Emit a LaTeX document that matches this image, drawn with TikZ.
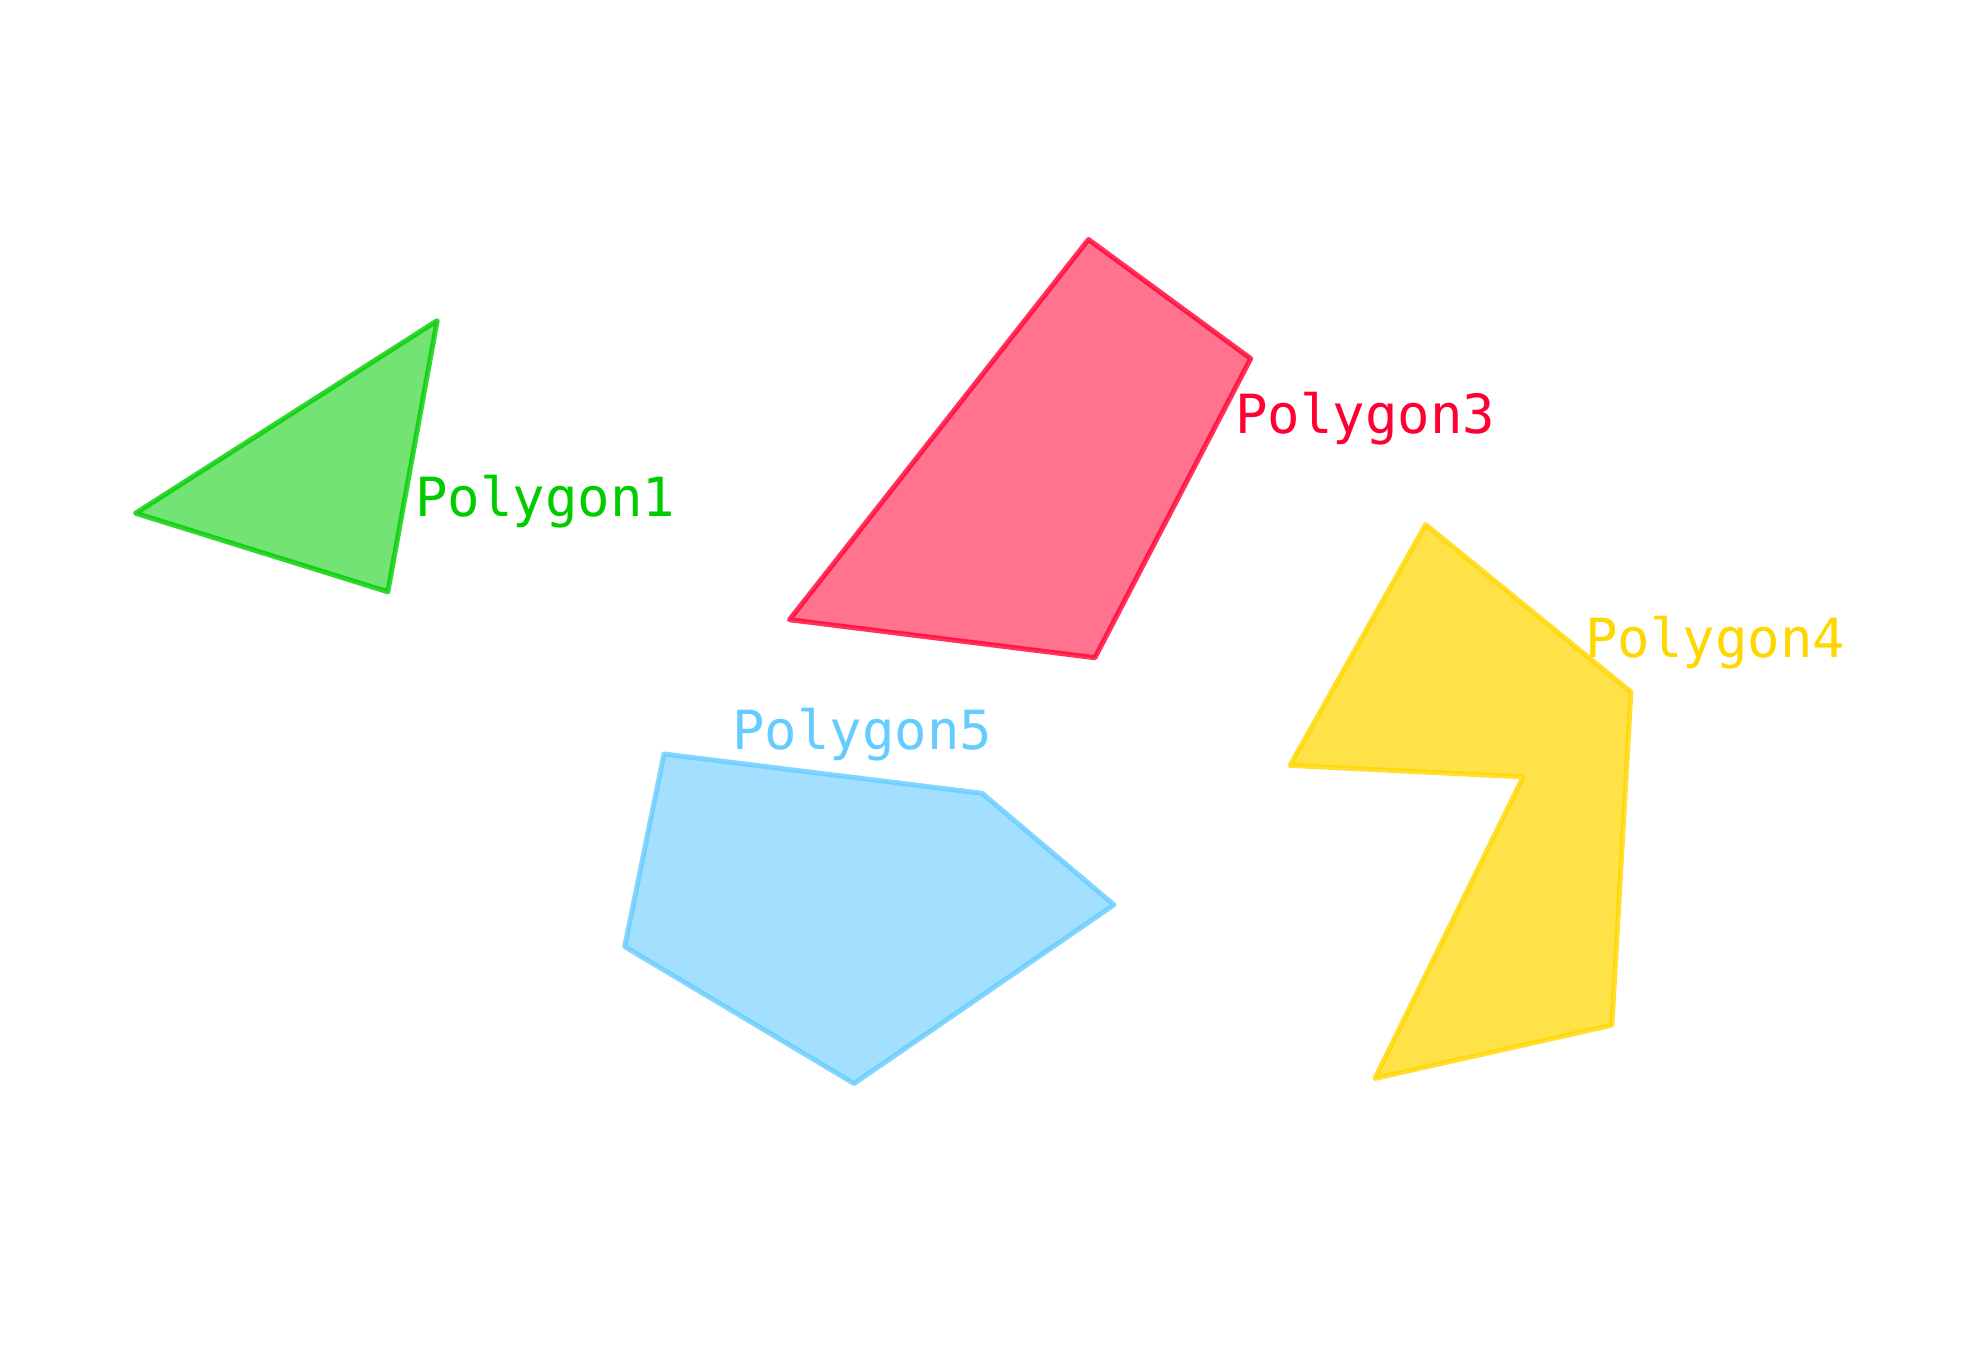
\documentclass[tikz,border=0pt]{standalone}
\usepackage{fontspec}
\newfontfamily\monofont{DejaVu Sans Mono}
\definecolor{cgreen}{HTML}{00CC00}
\definecolor{cred}{HTML}{FF0033}
\definecolor{cyellow}{HTML}{FFD700}
\definecolor{cblue}{HTML}{66CCFF}
\tikzset{
  poly/.style={line width=5pt, line join=round, draw=#1, draw opacity=0.8, fill=#1, fill opacity=0.55},
  lbl/.style={anchor=base west, inner sep=0pt, text=#1, font=\monofont\fontsize{54}{60}\selectfont}
}
\begin{document}
\begin{tikzpicture}[x=1pt,y=-1pt]
\useasboundingbox (0,0) rectangle (1987,1350);
% Polygon1
\coordinate (g1) at (135.6,513.2);
\coordinate (g2) at (437.2,320.6);
\coordinate (g3) at (387.8,591.8);
\draw[poly=cgreen] (g1) -- (g2) -- (g3) -- cycle;
\node[lbl=cgreen] (l1) at (415,516) {Polygon1};
% Polygon3
\coordinate (r1) at (1088.5,239.5);
\coordinate (r2) at (1250.7,358.6);
\coordinate (r3) at (1094.9,657.7);
\coordinate (r4) at (789.5,619.7);
\draw[poly=cred] (r1) -- (r2) -- (r3) -- (r4) -- cycle;
\node[lbl=cred] (l3) at (1235,433) {Polygon3};
% Polygon4
\coordinate (y1) at (1425.6,524.6);
\coordinate (y2) at (1630.9,691.9);
\coordinate (y3) at (1611.9,1025.2);
\coordinate (y4) at (1374.9,1078.4);
\coordinate (y5) at (1523.2,776.8);
\coordinate (y6) at (1290.0,765.4);
\draw[poly=cyellow, fill opacity=0.72] (y1) -- (y2) -- (y3) -- (y4) -- (y5) -- (y6) -- cycle;
\node[lbl=cyellow] (l4) at (1585,657) {Polygon4};
% Polygon5
\coordinate (b1) at (664.0,754.0);
\coordinate (b2) at (982.1,793.3);
\coordinate (b3) at (1113.9,904.8);
\coordinate (b4) at (854.1,1083.5);
\coordinate (b5) at (624.7,946.6);
\draw[poly=cblue, fill opacity=0.6] (b1) -- (b2) -- (b3) -- (b4) -- (b5) -- cycle;
\node[lbl=cblue] (l5) at (732,749) {Polygon5};
\end{tikzpicture}
\end{document}
